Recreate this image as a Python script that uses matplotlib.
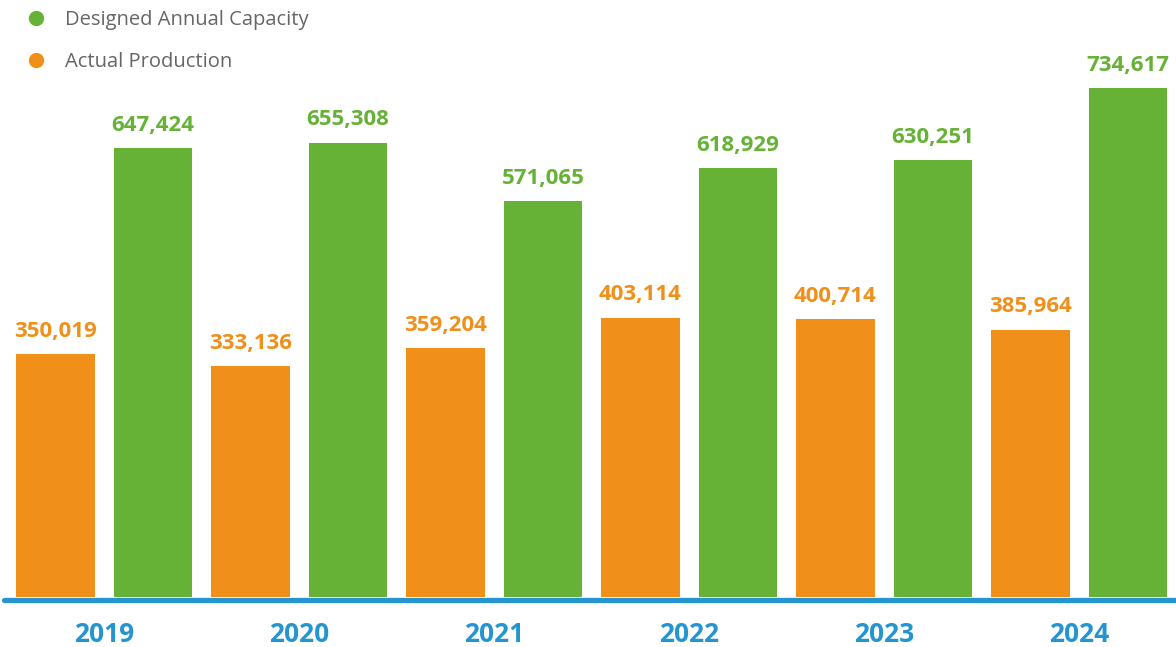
import numpy as np
import matplotlib
matplotlib.use("Agg")
import matplotlib.pyplot as plt
from matplotlib.lines import Line2D

# data
years = ['2019', '2020', '2021', '2022', '2023', '2024']
actual_production = [350019, 333136, 359204, 403114, 400714, 385964]
designed_capacity = [647424, 655308, 571065, 618929, 630251, 734617]

orange = '#f0901a'
green = '#66b236'
blue = '#2595d0'

plt.rcParams['font.family'] = ['Open Sans', 'DejaVu Sans']

W, H = 1176, 647
fig = plt.figure(figsize=(W / 100, H / 100), dpi=100)
# baseline sits 50 px above bottom, axes reaches the top edge
ax = fig.add_axes([0, 50 / H, 1, 1 - 50 / H])

idx = np.arange(len(years))
pos_act = idx * 2
pos_cap = idx * 2 + 1
w = 0.81

b1 = ax.bar(pos_act, actual_production, width=w, color=orange, zorder=2)
b2 = ax.bar(pos_cap, designed_capacity, width=w, color=green, zorder=2)

for rect, v in zip(b1, actual_production):
    ax.annotate(f'{v:,}', (rect.get_x() + rect.get_width() / 2, v),
                xytext=(0, 9), textcoords='offset points', ha='center', va='bottom',
                fontsize=16, fontweight='bold', color=orange)
for rect, v in zip(b2, designed_capacity):
    ax.annotate(f'{v:,}', (rect.get_x() + rect.get_width() / 2, v),
                xytext=(0, 9), textcoords='offset points', ha='center', va='bottom',
                fontsize=16, fontweight='bold', color=green)

ax.set_xlim(-55.5 / 97.5, (W - 55.5) / 97.5)
ax.set_ylim(0, max(designed_capacity) * 597 / 509)

ax.set_xticks(idx * 2 + 0.5)
ax.set_xticklabels(years, fontsize=19, fontweight='bold', color=blue)
ax.tick_params(axis='x', length=0, pad=17)
ax.set_yticks([])
for s in ax.spines.values():
    s.set_visible(False)

# blue base line
fig.add_artist(Line2D([4 / W, 1], [47.5 / H, 47.5 / H], transform=fig.transFigure,
                      color=blue, lw=3.8, solid_capstyle='round'))

handles = [Line2D([], [], marker='o', ls='', color=green, markersize=10),
           Line2D([], [], marker='o', ls='', color=orange, markersize=10)]
ax.legend(handles, ['Designed Annual Capacity', 'Actual Production'],
          loc='upper left', bbox_to_anchor=(0.005, 1.014), frameon=False,
          fontsize=14.5, labelcolor='#666666', labelspacing=1.1,
          handletextpad=0.85, handlelength=1.2)

fig.savefig('out.png', dpi=100)
